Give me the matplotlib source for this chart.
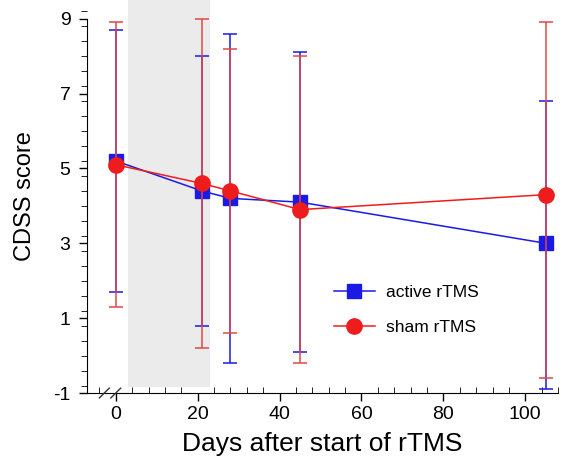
import matplotlib.pyplot as plt
from matplotlib.lines import Line2D
from matplotlib.ticker import MultipleLocator

plt.rcParams['font.family'] = ['Liberation Sans', 'DejaVu Sans']
plt.rcParams['axes.unicode_minus'] = False

# days after start of rTMS
days = [0, 21, 28, 45, 105]

# active rTMS: mean, upper and lower error bar ends
active_mean = [5.2, 4.4, 4.2, 4.1, 3.0]
active_hi = [8.7, 8.0, 8.6, 8.1, 6.8]
active_lo = [1.7, 0.8, -0.2, 0.1, -0.9]

# sham rTMS
sham_mean = [5.1, 4.6, 4.4, 3.9, 4.3]
sham_hi = [8.9, 9.0, 8.2, 8.0, 8.9]
sham_lo = [1.3, 0.2, 0.6, -0.2, -0.6]

# stimulation period (shaded)
stim_start, stim_end = 3, 23

blue = '#1a1ae6'
red = '#ee1c1c'

fig = plt.figure(figsize=(5.62, 4.69), dpi=100)
ax = fig.add_axes([0.155, 0.162, 0.838, 0.838])

ax.fill_between([stim_start, stim_end], -0.85, 9.6, color='#ebebeb', lw=0, zorder=0)

a_err = [[m - l for m, l in zip(active_mean, active_lo)],
         [h - m for m, h in zip(active_mean, active_hi)]]
s_err = [[m - l for m, l in zip(sham_mean, sham_lo)],
         [h - m for m, h in zip(sham_mean, sham_hi)]]

ax.errorbar(days, active_mean, yerr=a_err, color=blue, marker='s', markersize=10,
            lw=1.1, elinewidth=1.1, capsize=5, capthick=1.1, zorder=3)
ax.errorbar(days, sham_mean, yerr=s_err, color=red, ecolor='#e04848', marker='o',
            markersize=11, lw=1.1, elinewidth=1.1, capsize=5, capthick=1.1, zorder=4)

ax.set_xlim(-7, 108)
ax.set_ylim(-1, 9.5)
ax.spines['top'].set_visible(False)
ax.spines['right'].set_visible(False)
ax.spines['left'].set_bounds(-1, 9)

ax.set_yticks([-1, 1, 3, 5, 7, 9])
ax.yaxis.set_minor_locator(MultipleLocator(0.4))
ax.set_xticks([0, 20, 40, 60, 80, 100])
ax.xaxis.set_minor_locator(MultipleLocator(4))
ax.tick_params(axis='both', which='major', labelsize=14, length=6, width=1)
ax.tick_params(axis='y', which='major', pad=6)
ax.tick_params(axis='y', which='minor', length=4)
ax.tick_params(axis='x', which='minor', direction='in', length=4)

# axis break marks
for xb in [-2.8, 0]:
    ax.plot([xb - 1.2, xb + 1.2], [-1.13, -0.87], color='#333333', lw=1, clip_on=False, zorder=5)

ax.set_xlabel('Days after start of rTMS', fontsize=19, labelpad=6)
ax.set_ylabel('CDSS score', fontsize=17, labelpad=12)

handles = [Line2D([], [], color=blue, marker='s', markersize=10, lw=1.1),
           Line2D([], [], color=red, marker='o', markersize=11, lw=1.1)]
ax.legend(handles, ['active rTMS', 'sham rTMS'], loc='upper left',
          bbox_to_anchor=(0.49, 0.315), frameon=False, fontsize=12.5,
          handlelength=2.4, handletextpad=0.6, labelspacing=1.15)

fig.savefig('out.png', dpi=100)
